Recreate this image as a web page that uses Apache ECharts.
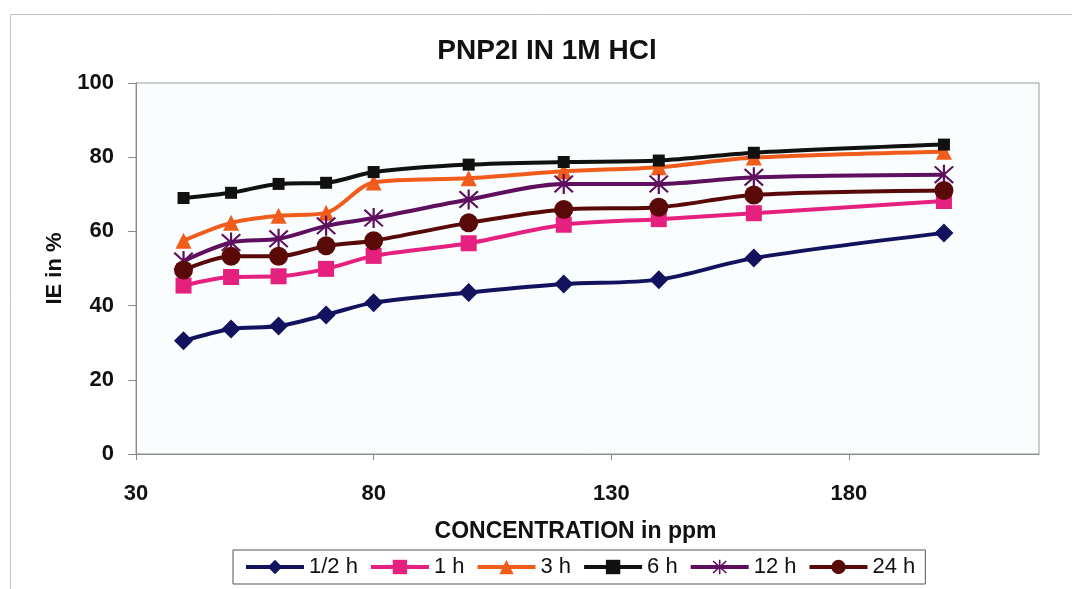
<!DOCTYPE html>
<html>
<head>
<meta charset="utf-8">
<script src="https://cdn.jsdelivr.net/npm/echarts@6/dist/echarts.min.js"></script>
<style>
  html, body { margin: 0; padding: 0; background: #ffffff; }
  #chart { width: 1072px; height: 589px; }
</style>
</head>
<body>
<div id="chart"></div>
<script>
// Concentration of inhibitor (ppm) and inhibition efficiency (%) per immersion time
const concentrations = [40, 50, 60, 70, 80, 100, 120, 140, 160, 200];
const seriesNames = ['1/2 h', '1 h', '3 h', '6 h', '12 h', '24 h'];
const ieHalfHour = [30.5, 33.7, 34.5, 37.5, 40.8, 43.5, 45.8, 47.0, 52.8, 59.6];
const ieOneHour = [45.4, 47.7, 47.9, 49.9, 53.4, 56.8, 61.8, 63.3, 64.9, 68.2];
const ieThreeHour = [57.5, 62.3, 64.2, 65.0, 73.2, 74.3, 76.2, 77.3, 79.9, 81.5];
const ieSixHour = [69.0, 70.4, 72.8, 73.1, 76.0, 78.0, 78.7, 79.1, 81.2, 83.4];
const ieTwelveHour = [52.0, 57.0, 58.0, 61.5, 63.6, 68.6, 72.8, 72.8, 74.6, 75.3];
const ieTwentyFourHour = [49.6, 53.3, 53.3, 56.1, 57.5, 62.3, 65.9, 66.5, 69.8, 71.0];

const xTicks = { min: 30, max: 220, step: 50 };
const yTicks = { min: 0, max: 100, step: 20 };

// Six-armed asterisk marker: vertical bar plus two diagonals
const asterisk = 'path://M9,0 L11,0 L11,20 L9,20 Z M1,2.4 L2.4,1 L19,17.6 L17.6,19 Z M17.6,1 L19,2.4 L2.4,19 L1,17.6 Z';

const styles = [
  { color: '#12125f', symbol: 'diamond', size: 19 },
  { color: '#e5207f', symbol: 'rect', size: 16 },
  { color: '#f05c1c', symbol: 'triangle', size: 16 },
  { color: '#111111', symbol: 'rect', size: 12 },
  { color: '#5e0f5e', symbol: asterisk, size: 20 },
  { color: '#5a0909', symbol: 'circle', size: 19 }
];
const values = [ieHalfHour, ieOneHour, ieThreeHour, ieSixHour, ieTwelveHour, ieTwentyFourHour];

const FONT = '"Liberation Sans", Arial, Helvetica, sans-serif';

const chart = echarts.init(document.getElementById('chart'), null, { renderer: 'canvas' });

chart.setOption({
  animation: false,
  backgroundColor: '#ffffff',
  graphic: [{
    type: 'rect',
    left: 8, top: 12,
    shape: { width: 1100, height: 640 },
    style: { fill: 'none', stroke: '#c4c4c4', lineWidth: 1 },
    silent: true
  }],
  title: {
    text: 'PNP2I IN 1M HCl',
    left: 542, top: 32,
    textAlign: 'center',
    textStyle: { fontFamily: FONT, fontWeight: 'bold', fontSize: 28, color: '#111' }
  },
  legend: {
    data: seriesNames,
    left: 233, top: 550,
    orient: 'horizontal',
    padding: [6, 10, 6, 11],
    itemGap: 11,
    itemWidth: 58,
    itemHeight: 18,
    borderColor: '#555',
    borderWidth: 1,
    backgroundColor: '#ffffff',
    lineStyle: { width: 4 },
    textStyle: { fontFamily: FONT, fontSize: 22, color: '#111' }
  },
  grid: {
    left: 136, right: 33, top: 83, bottom: 135,
    show: true,
    backgroundColor: '#f9fdfe',
    borderColor: '#9a9a9a',
    borderWidth: 1
  },
  xAxis: {
    type: 'value',
    min: xTicks.min, max: xTicks.max, interval: xTicks.step,
    name: 'CONCENTRATION in ppm',
    nameLocation: 'middle',
    nameGap: 66,
    nameTextStyle: {
      fontFamily: FONT, fontWeight: 'bold', fontSize: 23, color: '#111',
      padding: [0, 24, 0, 0]
    },
    axisLine: { show: true, lineStyle: { color: '#8a8a8a', width: 1 } },
    axisTick: { show: true, inside: false, length: 6, lineStyle: { color: '#8a8a8a' } },
    axisLabel: {
      margin: 29, showMaxLabel: false,
      fontFamily: FONT, fontWeight: 'bold', fontSize: 22, color: '#111'
    },
    splitLine: { show: false }
  },
  yAxis: {
    type: 'value',
    min: yTicks.min, max: yTicks.max, interval: yTicks.step,
    name: 'IE in %',
    nameLocation: 'middle',
    nameGap: 64,
    nameRotate: 90,
    nameTextStyle: { fontFamily: FONT, fontWeight: 'bold', fontSize: 22, color: '#111' },
    axisLine: { show: true, lineStyle: { color: '#8a8a8a', width: 1 } },
    axisTick: { show: true, inside: false, length: 8, lineStyle: { color: '#8a8a8a' } },
    axisLabel: { margin: 22, fontFamily: FONT, fontWeight: 'bold', fontSize: 22, color: '#111' },
    splitLine: { show: false }
  },
  series: seriesNames.map((name, i) => ({
    name: name,
    type: 'line',
    smooth: 0.3,
    data: concentrations.map((c, j) => [c, values[i][j]]),
    symbol: styles[i].symbol,
    symbolSize: styles[i].size,
    showAllSymbol: true,
    lineStyle: { color: styles[i].color, width: 4 },
    itemStyle: { color: styles[i].color, borderWidth: 0 },
    emphasis: { disabled: true }
  }))
});
</script>
</body>
</html>
